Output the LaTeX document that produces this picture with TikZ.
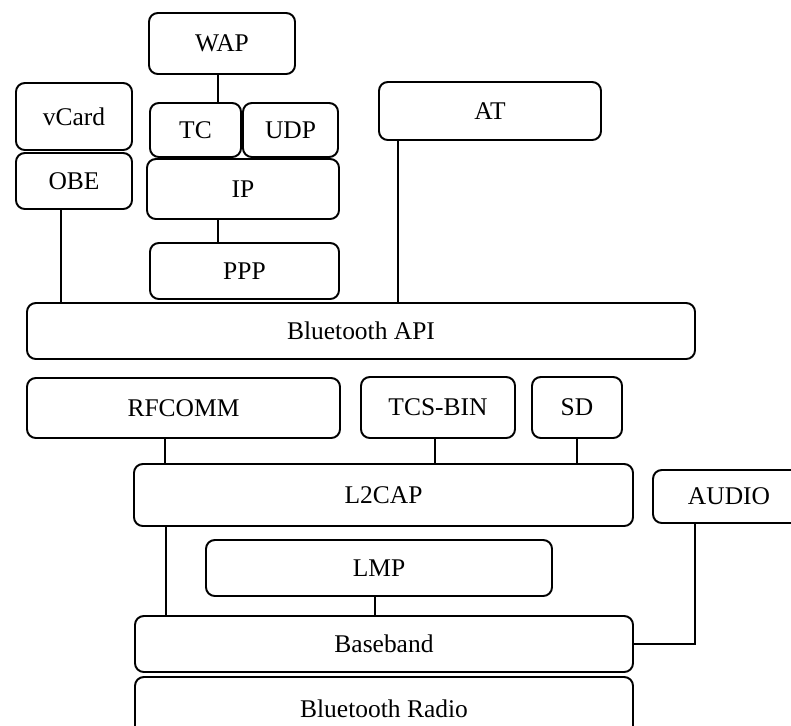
\documentclass[tikz,border=0pt]{standalone}
\usepackage{fontspec}
\setmainfont{Liberation Serif}
\usetikzlibrary{
    calc,
    fit
}
\tikzset{
  layer/.style={
    draw,
    rounded corners=5pt,
    inner sep=0pt
  },
  every label/.style={
    font=\fontsize{14.5}{17}\selectfont
  },
  link/.style={
    draw=black
  }
}
\begin{document}
\begin{tikzpicture}[x=0.02cm, y=-0.02cm, line width=1.1pt]
\useasboundingbox (0,0) rectangle (791,725);
\clip (0,0) rectangle (791,725);
% protocol layers
\foreach \nm/\xa/\ya/\xb/\yb/\txt in {
    wap/149/13/295/74/WAP,
    vcard/16/83/132/150/vCard,
    obe/16/153/132/209/OBE,
    tc/150/103/241/157/TC,
    udp/243/103/338/157/UDP,
    ip/147/159/339/219/IP,
    ppp/150/243/339/299/PPP,
    at/379/82/601/140/AT,
    api/27/303/695/359/Bluetooth API,
    rfcomm/27/378/340/438/RFCOMM,
    tcsbin/361/377/515/438/TCS-BIN,
    sd/532/377/622/438/SD,
    l2cap/134/464/633/526/L2CAP,
    audio/653/470/805/523/AUDIO,
    lmp/206/540/552/596/LMP,
    baseband/135/616/633/672/Baseband,
    radio/135/677/633/740/Bluetooth Radio} {
\node[layer, fit={(\xa,\ya) (\xb,\yb)}, label=center:\txt] (\nm) {};
}
% links between layers
\foreach \up/\dn/\dx in {wap/tc/-4, obe/api/-13, ip/ppp/-25, at/api/-92,
    rfcomm/l2cap/-18.5, tcsbin/l2cap/-3, sd/l2cap/0, lmp/baseband/-4,
    l2cap/baseband/-217.5} {
\draw[link] ($(\up.south)+(\dx,0)$) coordinate (top) -- (top |- \dn.north);
}
\draw[link] ($(audio.south)+(-34,0)$) |- (baseband.east);
\end{tikzpicture}
\end{document}
